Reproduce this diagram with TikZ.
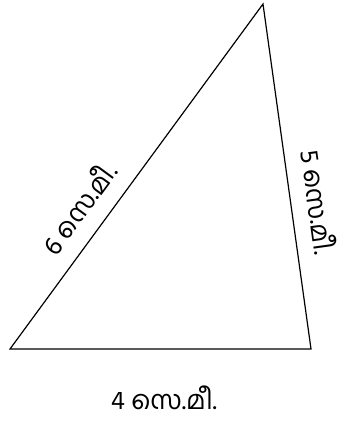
\documentclass[tikz,border=0pt]{standalone}
\usepackage{fontspec}
\usetikzlibrary{calc}
\newfontfamily\mlfont[Script=Malayalam]{Hind Kochi}
\begin{document}
\begin{tikzpicture}[x=1pt,y=1pt,
  lbl/.style={font=\mlfont\fontsize{26}{28}\selectfont, inner sep=0pt,
    text height=15pt, text depth=3pt, anchor=center},
  side/.style={draw=black, line width=1.2pt, line join=miter}]
\useasboundingbox (0,0) rectangle (341,423);
\coordinate (A) at (10,74);
\coordinate (B) at (311,74);
\coordinate (C) at (263,419);
\draw[side] (A) -- (B) -- (C) -- cycle;
\node[lbl] (b) at ($ (A)!0.5!(B) + (3.5,-55) $) {4 സെ.മീ.};
\node[lbl, rotate=-82.08] (r) at ($ (C)!0.585!(B)!23pt!90:(B) $) {5 സെ.മീ.};
\node[lbl, rotate=53.74] (l) at ($ (A)!0.36!(C)!23pt!90:(C) $) {6 സെ.മീ.};
\end{tikzpicture}
\end{document}
